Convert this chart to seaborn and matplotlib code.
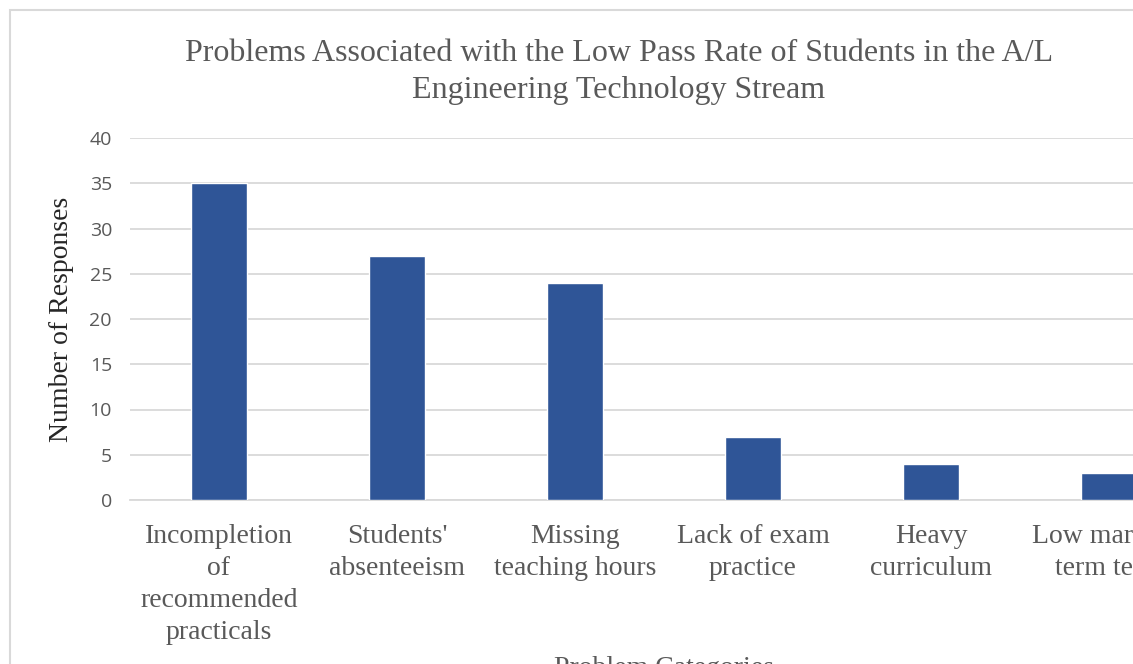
import matplotlib
matplotlib.use("Agg")
import matplotlib.pyplot as plt
import seaborn as sns
import pandas as pd
from matplotlib.patches import Rectangle

categories = [
    "Incompletion\nof\nrecommended\npracticals",
    "Students'\nabsenteeism",
    "Missing\nteaching hours",
    "Lack of exam\npractice",
    "Heavy\ncurriculum",
    "Low marks in\nterm tests",
]
responses = [35, 27, 24, 7, 4, 3]
y_ticks = [0, 5, 10, 15, 20, 25, 30, 35, 40]

title = "Problems Associated with the Low Pass Rate of Students in the A/L\nEngineering Technology Stream"
x_title = "Problem Categories"
y_title = "Number of Responses"

df = pd.DataFrame({"cat": categories, "val": responses})

sns.set_theme(style="white")
plt.rcParams["font.family"] = ["Liberation Serif", "DejaVu Serif"]

W, H = 1133, 664
fig = plt.figure(figsize=(W / 100, H / 100), dpi=100)
fig.patch.set_facecolor("white")

# chart frame (extends beyond the cropped picture)
fig.patches.append(Rectangle((10 / W, -0.5), 1.5, (H - 10) / H + 0.5,
                             transform=fig.transFigure, fill=False,
                             edgecolor="#d9d9d9", linewidth=1.5))

ax = fig.add_axes([130 / W, (H - 500) / H, 1068 / W, (500 - 138) / H])
sns.barplot(data=df, x="cat", y="val", color="#2F5597", width=0.313,
            saturation=1, ax=ax, zorder=3)

ax.set_ylim(0, 40)
ax.set_yticks(y_ticks)
ax.set_xlim(-0.5, len(categories) - 0.5)
ax.grid(axis="y", color="#d9d9d9", linewidth=1.3, zorder=0)
for s in ["top", "right", "left"]:
    ax.spines[s].set_visible(False)
ax.spines["bottom"].set_color("#d9d9d9")
ax.spines["bottom"].set_linewidth(1.3)
ax.tick_params(axis="both", length=0)
ax.tick_params(axis="y", pad=13)
ax.tick_params(axis="x", pad=17)

for lbl in ax.get_yticklabels():
    lbl.set_fontfamily(["Open Sans", "DejaVu Sans"])
    lbl.set_fontsize(14)
    lbl.set_color("#595959")
for lbl in ax.get_xticklabels():
    lbl.set_fontsize(20)
    lbl.set_color("#595959")
    lbl.set_linespacing(1.37)

ax.set_xlabel(x_title, fontsize=20, color="#595959", labelpad=8)
ax.set_ylabel("")
fig.text(62 / W, 1 - 319 / H, y_title, rotation=90, ha="center", va="center",
         fontsize=20, color="#262626")

fig.text(619 / W, 1 - 72 / H, title, ha="center", va="center",
         fontsize=23, color="#595959", linespacing=1.36)

fig.savefig("out.png", dpi=100, facecolor="white")
